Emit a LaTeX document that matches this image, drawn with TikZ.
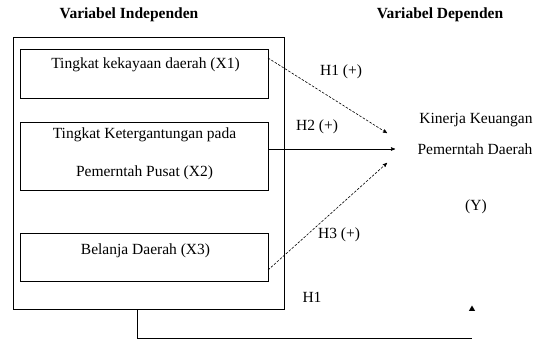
\documentclass[tikz,border=0pt]{standalone}
\usepackage{fontspec}
\setmainfont{Liberation Serif}
\usetikzlibrary{positioning}
\usetikzlibrary{arrows}
\usetikzlibrary{shapes.geometric}
\tikzset{
    x=1pt, y=-1pt,
    every node/.append style={
        font=\fontsize{15.5}{18}\selectfont
    },
    outerbox/.style={
        draw, thick,
        minimum width=271pt,
        minimum height=272pt,
        inner sep=0pt
    },
    varbox/.style={
        draw, thick,
        minimum width=248pt,
        inner sep=0pt
    },
    title/.style={
        font=\fontsize{15.5}{18}\selectfont\bfseries
    },
    hyp/.style={
        inner sep=1pt
    },
    link/.style={
        ->,>=stealth',
        semithick
    },
    dashlink/.style={
        link,
        dash pattern=on 2.5pt off 1.5pt
    }
}

\begin{document}
\begin{tikzpicture}
                \useasboundingbox (0,0) rectangle (543,339);

                \node[title] (indep) at (129,15) {Variabel Independen};
                \node[title] (dep) at (440,15) {Variabel Dependen};

                \node[outerbox] (outer) at (148.5,173) {};
                \node[varbox, minimum height=49pt] (x1) at (144,73.5) {};
                \node[varbox, minimum height=68pt] (x2) at (144,156) {};
                \node[varbox, minimum height=48pt] (x3) at (144,257) {};

                \node (x1text) at (145.5,65) {Tingkat kekayaan daerah (X1)};
                \node (x2top) at (144.5,135) {Tingkat Ketergantungan pada};
                \node (x2bot) at (144.5,173) {Pemerntah Pusat (X2)};
                \node (x3text) at (145.5,251) {Belanja Daerah (X3)};

                \node (y1) at (476,120) {Kinerja Keuangan};
                \node (y2) at (475,149) {Pemerntah Daerah};
                \node (y3) at (476,207) {(Y)};

                \coordinate (s1) at (268,58);
                \coordinate (s2) at (268,149);
                \coordinate (s3) at (268,270);
                \coordinate (t1) at (387,133);
                \coordinate (t2) at (395,149);
                \coordinate (t3) at (387,163);

                \draw[dashlink] (s1) -- (t1);
                \draw[link] (s2) -- (t2);
                \draw[dashlink] (s3) -- (t3);

                \node[hyp] (h1) at (341,72) {H1 (+)};
                \node[hyp] (h2) at (317,127) {H2 (+)};
                \node[hyp] (h3) at (339,235) {H3 (+)};
                \node[hyp] (h4) at (312,297) {H1};

                % feedback line
                \coordinate (fb) at (137,309);
                \coordinate (corner) at (137,338);
                \coordinate (fbend) at (472,338);
                \draw[semithick] (fb) -- (corner) -- (fbend);
                \node[regular polygon, regular polygon sides=3, fill,
                      minimum size=7pt, inner sep=0pt] (tip) at (472,309) {};
            \end{tikzpicture}
\end{document}
